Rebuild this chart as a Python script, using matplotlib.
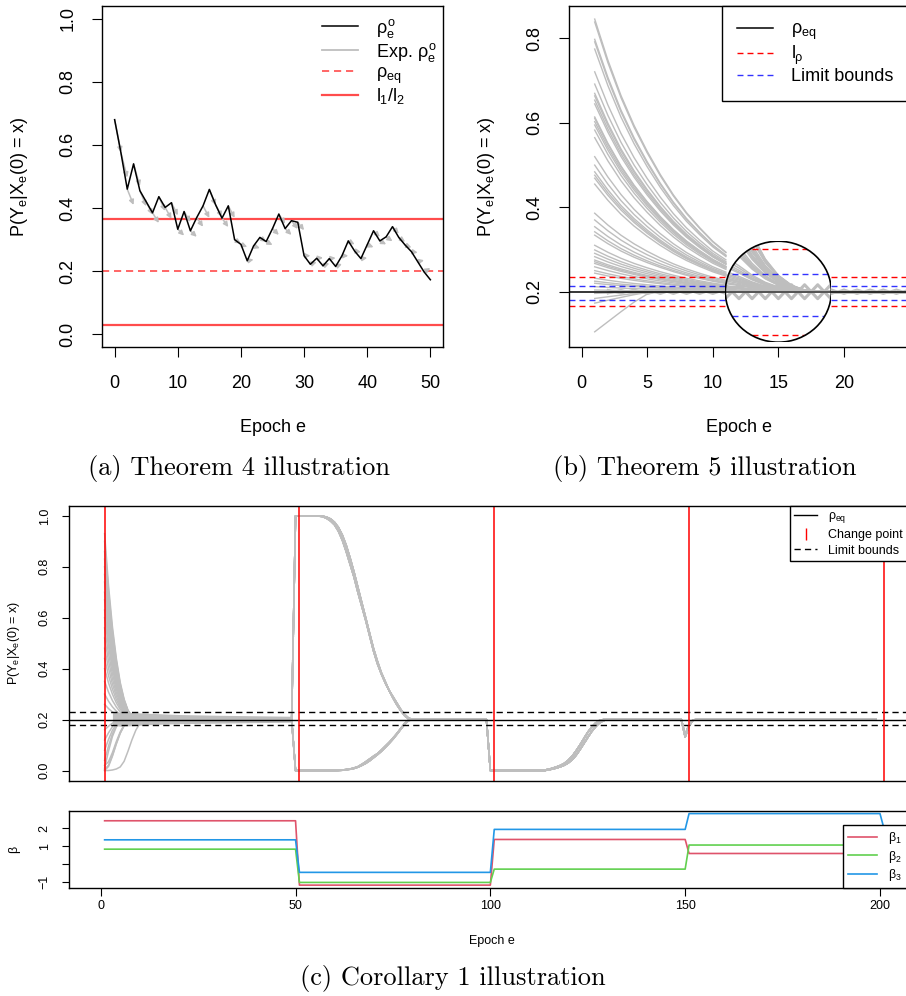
import numpy as np
import matplotlib.pyplot as plt
from matplotlib.lines import Line2D
from matplotlib.patches import Ellipse

plt.rcParams['font.family'] = ['Liberation Sans', 'DejaVu Sans']
plt.rcParams['mathtext.fontset'] = 'custom'
plt.rcParams['mathtext.rm'] = 'Liberation Sans'
plt.rcParams['mathtext.it'] = 'Liberation Sans'
plt.rcParams['mathtext.bf'] = 'Liberation Sans:bold'
plt.rcParams['axes.linewidth'] = 1.0

GREY = '#bebebe'

# ---------------- (a) Theorem 4 ----------------
rho_obs = [0.68, 0.575, 0.46, 0.54, 0.455, 0.42, 0.385, 0.436, 0.402, 0.417,
           0.333, 0.389, 0.328, 0.37, 0.407, 0.459, 0.41, 0.368, 0.407, 0.30,
           0.285, 0.233, 0.28, 0.307, 0.294, 0.335, 0.381, 0.335, 0.36, 0.355,
           0.249, 0.222, 0.241, 0.217, 0.24, 0.215, 0.249, 0.296, 0.264, 0.24,
           0.284, 0.328, 0.296, 0.309, 0.341, 0.307, 0.283, 0.262, 0.23, 0.198,
           0.173]
# expected next value drawn as an arrow from each epoch
rho_exp = [0.577, 0.497, 0.410, 0.470, 0.406, 0.379, 0.353, 0.391, 0.366, 0.377,
           0.313, 0.356, 0.309, 0.341, 0.369, 0.409, 0.372, 0.340, 0.369, 0.288,
           0.277, 0.237, 0.273, 0.293, 0.283, 0.315, 0.350, 0.315, 0.334, 0.330,
           0.249, 0.229, 0.243, 0.225, 0.242, 0.223, 0.249, 0.285, 0.261, 0.242,
           0.276, 0.309, 0.285, 0.295, 0.319, 0.293, 0.275, 0.259, 0.235, 0.210]
a_rho_eq = 0.2
a_l_bounds = [0.03, 0.365]

# ---------------- (b) Theorem 5 ----------------
b_start_hi = [0.846, 0.839, 0.798, 0.792, 0.775, 0.721, 0.692, 0.670, 0.664,
              0.654, 0.645, 0.614, 0.611, 0.603, 0.595, 0.583, 0.565, 0.520,
              0.50, 0.484, 0.476, 0.469, 0.455, 0.386, 0.370, 0.354, 0.342,
              0.334, 0.31, 0.299, 0.291, 0.283, 0.275, 0.271, 0.267, 0.259,
              0.25, 0.244, 0.232, 0.225, 0.220, 0.212, 0.204]
b_start_lo = [0.196, 0.184, 0.173, 0.105]
# share of the starting gap to rho_eq left at epochs 1..25
b_decay = [1.0, 0.85, 0.72, 0.61, 0.515, 0.43, 0.355, 0.29, 0.235, 0.185,
           0.145, 0.11, 0.07, 0.04, 0.02, 0.008, 0.002, 0.0, 0.0, 0.0,
           0.0, 0.0, 0.0, 0.0, 0.0]
b_rise = [1.0, 0.75, 0.5, 0.26, 0.06] + [0.0] * 20
# settled paths swing around rho_eq (epochs 1..25)
b_wiggle = [0.0, 0.004, -0.004, 0.005, -0.005, 0.005, -0.005, 0.005, -0.005,
            0.005, -0.005, 0.0055, -0.0055, 0.0055, -0.0055, 0.0055, -0.0055,
            0.0055, -0.0055, 0.005, -0.005, 0.005, -0.005, 0.005, -0.005]
b_rho_eq = 0.2
b_l_rho = [0.166, 0.234]
b_limits = [0.181, 0.214]
b_zoom_center = 15
b_zoom = 3

# ---------------- (c) Corollary 1 ----------------
c_start_hi = [0.93, 0.9, 0.86, 0.83, 0.8, 0.77, 0.74, 0.7, 0.67, 0.63, 0.6,
              0.56, 0.52, 0.48, 0.44, 0.4, 0.35, 0.3, 0.26]
c_start_lo = [0.0, 0.0, 0.005, 0.01, 0.02, 0.04, 0.08, 0.12, 0.16]
c_speed_lo = ['slow', 'mid', 'mid', 'fast', 'mid', 'fast', 'fast', 'fast', 'fast']
# epochs 1..49: remaining share of the gap to rho_eq
c_decay = [1.0, 0.72, 0.50, 0.33, 0.20, 0.11, 0.05, 0.02, 0.005] + [0.0] * 40
c_rise = {
    'fast': [1.0, 0.65, 0.35, 0.15, 0.05, 0.01] + [0.0] * 43,
    'mid': [1.0, 0.92, 0.72, 0.48, 0.27, 0.12, 0.04, 0.01] + [0.0] * 41,
    'slow': [1.0, 1.0, 0.99, 0.97, 0.93, 0.82, 0.62, 0.40, 0.21, 0.08, 0.02] + [0.0] * 38,
}
# epochs 50..99
c_seg2 = [
    [1.0, 1.0, 1.0, 1.0, 1.0, 1.0, 0.999, 0.997, 0.99, 0.98, 0.965, 0.94, 0.905,
     0.86, 0.81, 0.76, 0.70, 0.645, 0.59, 0.53, 0.47, 0.42, 0.38, 0.345, 0.315,
     0.29, 0.265, 0.24, 0.22, 0.206, 0.201] + [0.2] * 19,
    [0.0] * 11 + [0.001, 0.002, 0.004, 0.006, 0.01, 0.015, 0.024, 0.034, 0.045,
                  0.056, 0.066, 0.08, 0.095, 0.11, 0.127, 0.145, 0.165, 0.185,
                  0.198, 0.2] + [0.2] * 19,
    [1.0, 1.0, 1.0, 1.0, 1.0, 1.0, 1.0, 0.999, 0.995, 0.988, 0.975, 0.955, 0.925,
     0.885, 0.835, 0.78, 0.72, 0.66, 0.60, 0.54, 0.48, 0.43, 0.385, 0.35, 0.315,
     0.285, 0.258, 0.235, 0.215, 0.203, 0.2] + [0.2] * 19,
    [0.0] * 12 + [0.001, 0.003, 0.005, 0.008, 0.013, 0.02, 0.028, 0.038, 0.05,
                  0.062, 0.075, 0.09, 0.106, 0.123, 0.142, 0.162, 0.182, 0.196,
                  0.2] + [0.2] * 19,
]
# epochs 100..199
c_seg3 = [
    [0.0] * 15 + [0.003, 0.006, 0.01, 0.015, 0.021, 0.03, 0.043, 0.06, 0.082,
                  0.106, 0.13, 0.153, 0.172, 0.187, 0.196, 0.2] + [0.2] * 19
    + [0.132, 0.175, 0.198] + [0.2] * 47,
    [0.0] * 14 + [0.002, 0.005, 0.009, 0.014, 0.02, 0.028, 0.04, 0.056, 0.077,
                  0.1, 0.125, 0.15, 0.17, 0.186, 0.196, 0.2] + [0.2] * 20
    + [0.14, 0.18, 0.199] + [0.2] * 47,
]
c_band_ep = [3, 5, 8, 12, 20, 30, 40, 49]
c_band_hi = [0.226, 0.229, 0.228, 0.225, 0.22, 0.217, 0.215, 0.213]
c_band_lo = [0.178, 0.174, 0.176, 0.18, 0.184, 0.186, 0.188, 0.19]
c_rho_eq = 0.2
c_limits = [0.177, 0.231]
c_change_points = [1, 51, 101, 151, 201]

beta1 = [2.41, -1.17, 1.37, 0.59]
beta2 = [0.83, -1.02, -0.28, 1.06]
beta3 = [1.35, -0.46, 1.93, 2.81]
beta_last = [0.59, 1.06, 2.0]

# ---------------- layout ----------------
W, H = 906, 996
fig = plt.figure(figsize=(W / 100, H / 100), dpi=100)


def box(l, t, r, b):
    return [l / W, 1 - b / H, (r - l) / W, (b - t) / H]


ax_a = fig.add_axes(box(102, 6, 443, 347))
ax_b = fig.add_axes(box(569, 6, 909, 347))
ax_c = fig.add_axes(box(69.4, 505.7, 915.2, 780.7))
ax_d = fig.add_axes(box(69.4, 810.7, 915.2, 888))

dash = (0, (4.3, 2.9))

# ---- (a)
ep_a = np.arange(len(rho_obs))
for e in range(len(rho_exp)):
    ax_a.annotate('', xy=(e + 1, rho_exp[e]), xytext=(e, rho_obs[e]),
                  arrowprops=dict(arrowstyle='-|>', color=GREY, lw=1.1,
                                  mutation_scale=7, shrinkA=0, shrinkB=0))
ax_a.plot(ep_a, rho_obs, color='black', lw=1.1, zorder=4)
for y in a_l_bounds:
    ax_a.axhline(y, color='red', alpha=0.7, lw=1.6)
ax_a.axhline(a_rho_eq, color='red', alpha=0.7, lw=1.2, ls=dash)
ax_a.set_xlim(-2, 52)
ax_a.set_ylim(-0.04, 1.04)
ax_a.set_xticks(range(0, 51, 10))
ax_a.set_yticks(np.arange(0, 1.01, 0.2))
ax_a.set_yticklabels(['0.0', '0.2', '0.4', '0.6', '0.8', '1.0'], rotation=90, va='center')
ax_a.tick_params(labelsize=13, length=7.5)
ax_a.tick_params(axis='y', pad=11)
ax_a.tick_params(axis='x', pad=13)
ax_a.set_xlabel('Epoch e', fontsize=13, va='center')
ax_a.xaxis.set_label_coords(0.5, -0.2375)
ax_a.set_ylabel('P(Y$_e$|X$_e$(0) = x)', fontsize=13, va='center')
ax_a.yaxis.set_label_coords(-0.2405, 0.5)
h_a = [Line2D([], [], color='black', lw=1.1),
       Line2D([], [], color=GREY, lw=1.3),
       Line2D([], [], color='red', alpha=0.7, lw=1.2, ls=dash),
       Line2D([], [], color='red', alpha=0.7, lw=1.6)]
ax_a.legend(h_a, [r'$\rho_e^o$', r'Exp. $\rho_e^o$', r'$\rho_{eq}$', r'$l_1/l_2$'],
            loc='upper left', bbox_to_anchor=(0.618, 0.995), frameon=False,
            fontsize=13, handlelength=2.0, handletextpad=1.0, labelspacing=0.05,
            borderpad=0)

# ---- (b)
ep_b = np.arange(1, 26)
wig = np.array(b_wiggle)
curves_b = [b_rho_eq + (p - b_rho_eq) * np.array(b_decay) for p in b_start_hi]
curves_b += [b_rho_eq - (b_rho_eq - p) * np.array(b_rise) for p in b_start_lo]
settled_b = [b_rho_eq + wig, b_rho_eq - wig]

left = ep_b <= 11
right = ep_b >= 19
for c in curves_b:
    ax_b.plot(ep_b[left], c[left], color=GREY, lw=1.0)
    ax_b.plot(ep_b[right], c[right], color=GREY, lw=1.0)
for c in settled_b:
    ax_b.plot(ep_b[left][1:], c[left][1:], color=GREY, lw=1.6)
    ax_b.plot(ep_b[right], c[right], color=GREY, lw=1.6)
ax_b.axhline(b_rho_eq, color='black', lw=1.1)
for y in b_l_rho:
    ax_b.hlines([y, y], [-0.96, 19], [11, 24.96], color='red', lw=1, ls=dash)
for y in b_limits:
    ax_b.hlines([y, y], [-0.96, 19], [11, 24.96], color='blue', lw=1, ls=dash, alpha=0.8)
ax_b.set_xlim(-0.96, 24.96)
ax_b.set_ylim(0.069, 0.877)
ax_b.set_xticks(range(0, 25, 5))
ax_b.set_yticks([0.2, 0.4, 0.6, 0.8])
ax_b.set_yticklabels(['0.2', '0.4', '0.6', '0.8'], rotation=90, va='center')
ax_b.tick_params(labelsize=13, length=7.5)
ax_b.tick_params(axis='y', pad=11)
ax_b.tick_params(axis='x', pad=13)
ax_b.set_xlabel('Epoch e', fontsize=13, va='center')
ax_b.xaxis.set_label_coords(0.5, -0.2375)
ax_b.set_ylabel('P(Y$_e$|X$_e$(0) = x)', fontsize=13, va='center')
ax_b.yaxis.set_label_coords(-0.244, 0.5)

# magnifier circle around epoch 15
hx, hy = 4.04, 0.1196
ins = ax_b.inset_axes([b_zoom_center - hx, b_rho_eq - hy, 2 * hx, 2 * hy],
                      transform=ax_b.transData)
ins.set_xlim(b_zoom_center - hx, b_zoom_center + hx)
ins.set_ylim(b_rho_eq - hy / b_zoom, b_rho_eq + hy / b_zoom)
ins.axis('off')
disc = Ellipse((0.5, 0.5), 1, 1, transform=ins.transAxes, facecolor='white',
               edgecolor='none', zorder=0)
ins.add_patch(disc)
arts = []
for c in curves_b:
    arts += ins.plot(ep_b, c, color=GREY, lw=1.1)
for c in settled_b:
    arts += ins.plot(ep_b, c, color=GREY, lw=2.2)
arts += ins.plot([0, 25], [b_rho_eq] * 2, color='black', lw=1.1, alpha=0.7)
for y in b_l_rho:
    arts += ins.plot([0, 25], [y, y], color='red', lw=1, ls=dash)
for y in b_limits:
    arts += ins.plot([0, 25], [y, y], color='blue', lw=1, ls=dash, alpha=0.8)
for a in arts:
    a.set_clip_path(disc)
ins.add_patch(Ellipse((0.5, 0.5), 1, 1, transform=ins.transAxes, fill=False,
                      edgecolor='black', lw=1.2, zorder=5))
h_b = [Line2D([], [], color='black', lw=1.1),
       Line2D([], [], color='red', lw=1, ls=dash),
       Line2D([], [], color='blue', lw=1, ls=dash, alpha=0.8)]
leg_b = ax_b.legend(h_b, [r'$\rho_{eq}$', r'$l_\rho$', 'Limit bounds'],
                    loc='upper right', bbox_to_anchor=(1, 1), borderaxespad=0,
                    fontsize=13, handlelength=2.0, handletextpad=1.0,
                    labelspacing=0.08, borderpad=0.85, fancybox=False,
                    edgecolor='black', framealpha=1)
leg_b.get_frame().set_linewidth(1.0)

# ---- (c) top
ep_c = np.arange(1, 200)
curves_c = []
i = 0
for p in c_start_hi:
    s1 = c_rho_eq + (p - c_rho_eq) * np.array(c_decay)
    curves_c.append(np.concatenate([s1, c_seg2[i % 4], c_seg3[i % 2]]))
    i += 1
for p, sp in zip(c_start_lo, c_speed_lo):
    s1 = c_rho_eq - (c_rho_eq - p) * np.array(c_rise[sp])
    curves_c.append(np.concatenate([s1, c_seg2[i % 4], c_seg3[i % 2]]))
    i += 1

ax_c.fill_between(c_band_ep, c_band_lo, c_band_hi, color=GREY, lw=0)
for c in curves_c:
    ax_c.plot(ep_c, c, color=GREY, lw=1.1)
ax_c.axhline(c_rho_eq, color='black', lw=1)
for y in c_limits:
    ax_c.axhline(y, color='black', lw=1, ls=(0, (4.5, 3)))
for cp in c_change_points:
    ax_c.axvline(cp, color='red', lw=1.1)
ax_c.set_xlim(-8.04, 209.04)
ax_c.set_ylim(-0.04, 1.04)
ax_c.tick_params(axis='x', bottom=False, labelbottom=False)
ax_c.set_yticks(np.arange(0, 1.01, 0.2))
ax_c.set_yticklabels(['0.0', '0.2', '0.4', '0.6', '0.8', '1.0'], rotation=90, va='center')
ax_c.tick_params(axis='y', labelsize=9, length=5.4, pad=8)
ax_c.set_ylabel('P(Y$_e$|X$_e$(0) = x)', fontsize=9, va='center')
ax_c.yaxis.set_label_coords(-0.0655, 0.5)
h_c = [Line2D([], [], color='black', lw=1),
       Line2D([], [], color='red', ls='none', marker='|', markersize=9, mew=1),
       Line2D([], [], color='black', lw=1, ls=(0, (4.5, 3)))]
leg_c = ax_c.legend(h_c, [r'$\rho_{eq}$', 'Change point', 'Limit bounds'],
                    loc='upper right', bbox_to_anchor=((907 - 69.4) / 845.8, 1),
                    borderaxespad=0, fontsize=9, handlelength=1.84,
                    handletextpad=0.85, labelspacing=0.3, borderpad=0.35,
                    fancybox=False, edgecolor='black', framealpha=1)
leg_c.get_frame().set_linewidth(1.0)

# ---- (c) bottom: beta
ep_d = np.arange(1, 202)
b1 = np.concatenate([np.repeat(beta1, 50), [beta_last[0]]])
b2 = np.concatenate([np.repeat(beta2, 50), [beta_last[1]]])
b3 = np.concatenate([np.repeat(beta3, 50), [beta_last[2]]])
ax_d.plot(ep_d, b1, color='#DF536B', lw=1.2)
ax_d.plot(ep_d, b2, color='#61D04F', lw=1.2)
ax_d.plot(ep_d, b3, color='#2297E6', lw=1.2)
ax_d.set_xlim(-8.04, 209.04)
ax_d.set_ylim(-1.33, 2.97)
ax_d.set_xticks(range(0, 201, 50))
ax_d.set_yticks([-1, 0, 1, 2])
ax_d.set_yticklabels(['\u22121', '', '1', '2'], rotation=90, va='center')
ax_d.tick_params(labelsize=9, length=5.4)
ax_d.tick_params(axis='y', pad=8)
ax_d.tick_params(axis='x', pad=3)
ax_d.set_xlabel('Epoch e', fontsize=9, va='center')
ax_d.xaxis.set_label_coords(0.5, -0.682)
ax_d.set_ylabel('\u03b2', fontsize=9, va='center')
ax_d.yaxis.set_label_coords(-0.065, 0.5)
h_d = [Line2D([], [], color=c, lw=1.2) for c in ('#DF536B', '#61D04F', '#2297E6')]
leg_d = ax_d.legend(h_d, [r'$\beta_1$', r'$\beta_2$', r'$\beta_3$'],
                    loc='lower right', bbox_to_anchor=((907 - 69.4) / 845.8, 0),
                    borderaxespad=0, fontsize=9, handlelength=2.3,
                    handletextpad=0.9, labelspacing=0.2, borderpad=0.4,
                    fancybox=False, edgecolor='black', framealpha=1)
leg_d.get_frame().set_linewidth(1.0)

# captions
cap = dict(family='cmr10', fontsize=19, ha='center', va='center')
fig.text(239 / W, 1 - 468 / H, '(a) Theorem 4 illustration', **cap)
fig.text(705 / W, 1 - 468 / H, '(b) Theorem 5 illustration', **cap)
fig.text(453 / W, 1 - 978 / H, '(c) Corollary 1 illustration', **cap)

fig.savefig('out.png', dpi=100)
